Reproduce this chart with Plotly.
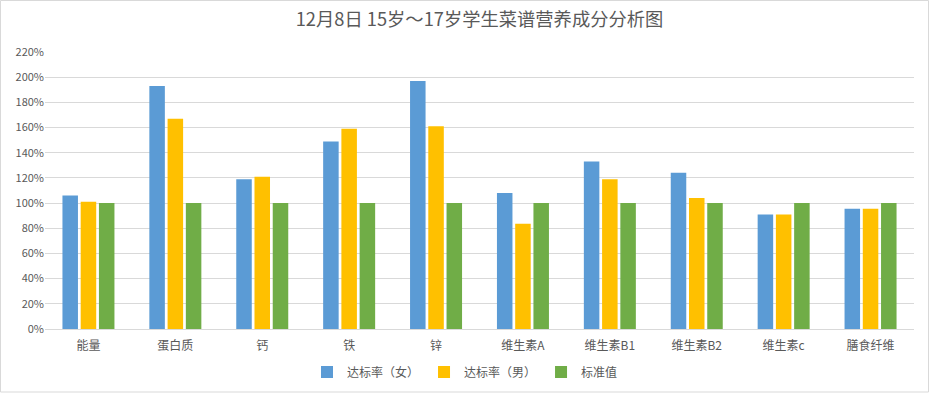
import plotly.graph_objects as go

categories = ["能量", "蛋白质", "钙", "铁", "锌", "维生素A", "维生素B1", "维生素B2", "维生素c", "膳食纤维"]
female = [1.06, 1.93, 1.19, 1.49, 1.97, 1.08, 1.33, 1.24, 0.91, 0.955]
male = [1.01, 1.67, 1.21, 1.59, 1.61, 0.835, 1.19, 1.04, 0.91, 0.955]
standard = [1.0, 1.0, 1.0, 1.0, 1.0, 1.0, 1.0, 1.0, 1.0, 1.0]
series_names = ["达标率（女）", "达标率（男）", "标准值"]
colors = ["#5B9BD5", "#FFC000", "#70AD47"]
tick_vals = [i / 100 for i in range(0, 221, 20)]
tick_text = [f"{i}%" for i in range(0, 221, 20)]

W, H = 930, 394
ml, mr, mt, mb = 45, 16, 52, 65
pw, ph = W - ml - mr, H - mt - mb

font_family = "Noto Sans CJK SC, Noto Sans, sans-serif"

fig = go.Figure()
for name, vals, c in zip(series_names, [female, male, standard], colors):
    fig.add_trace(go.Bar(x=categories, y=vals, name=name, marker_color=c,
                         marker_line_width=0))

fig.update_layout(
    width=W, height=H, autosize=False,
    margin=dict(l=ml, r=mr, t=mt, b=mb, autoexpand=False),
    paper_bgcolor="white", plot_bgcolor="white",
    font=dict(family=font_family, size=12, color="#595959"),
    title=dict(text="12月8日 15岁～17岁学生菜谱营养成分分析图", x=0.5, xanchor="center",
               xref="paper", y=1 - 20 / H, yanchor="middle", yref="container",
               font=dict(size=18.3, color="#595959", family=font_family)),
    barmode="group", bargap=0.37, bargroupgap=0.15,
    legend=dict(orientation="h", x=0.5, xanchor="center", xref="container",
                y=22 / H, yanchor="middle", yref="container",
                font=dict(size=12, color="#595959"), itemwidth=30, traceorder="normal"),
    xaxis=dict(showgrid=False, showline=True, linecolor="#D9D9D9", linewidth=1,
               ticks="", automargin=False, ticklabelstandoff=6,
               tickfont=dict(size=12, color="#595959")),
    yaxis=dict(range=[0, 2.2], tickvals=tick_vals, ticktext=tick_text,
               showgrid=True, gridcolor="#D9D9D9", gridwidth=1, zeroline=False,
               showline=False, ticks="", automargin=False,
               tickfont=dict(size=11, color="#595959")),
    shapes=[dict(type="rect", xref="paper", yref="paper",
                 x0=-(ml - 0.5) / pw, x1=1 + (mr - 1.5) / pw,
                 y0=-(mb - 2) / ph, y1=1 + (mt - 0.5) / ph,
                 line=dict(color="#D9D9D9", width=1), layer="below")],
)

fig.write_html("out.html", config={"displayModeBar": False})

with open("out.html", "r", encoding="utf-8") as f:
    html = f.read()
html = html.replace("<head>", "<head><style>html,body{margin:0;padding:0;overflow:hidden;}</style>", 1)
with open("out.html", "w", encoding="utf-8") as f:
    f.write(html)
